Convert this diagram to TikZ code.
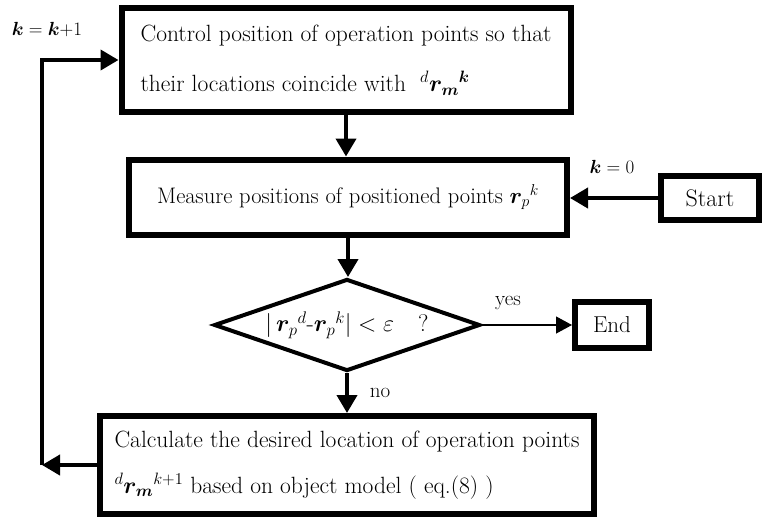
\documentclass[tikz,border=0pt]{standalone}
\usepackage{fix-cm}
\usepackage{fontspec}
\usepackage{bm}
\usetikzlibrary{arrows.meta,shapes.geometric}

\begin{document}
\begin{tikzpicture}[x=1pt, y=-1pt,
  box/.style={draw, line width=6pt, inner sep=0pt, fill=white},
  arr/.style={line width=4pt, -{Triangle[length=18pt, width=20pt]}},
  thinarr/.style={line width=1.2pt, -{Triangle[length=16pt, width=17pt]}},
  lbl/.style={font=\fontsize{19}{22}\selectfont},
  ans/.style={font=\fontsize{21}{24}\selectfont}]
  \useasboundingbox (0,0) rectangle (762,520);
  % boxes of the loop
  \node[box, minimum width=449pt, minimum height=104pt, align=left,
    font=\fontsize{23.5}{50}\selectfont] (ctrl) at (346,60)
    {Control position of operation points so that\\
     their locations coincide with \ ${}^{d}\bm{r}_{\bm m}{}^{\bm k}$};
  \node[box, minimum width=438pt, minimum height=75pt,
    font=\fontsize{22.5}{26}\selectfont] (meas) at (348,197)
    {Measure positions of positioned points $\bm{r}_{p}{}^{k}$};
  \node[draw, shape=diamond, aspect=2.9, line width=4pt, inner sep=0pt,
    minimum width=266pt, minimum height=92pt,
    font=\fontsize{24}{26}\selectfont] (dec) at (347,325)
    {$|\,\bm{r}_{p}{}^{d}\mbox{-}\bm{r}_{p}{}^{k}| < \varepsilon$\quad ?};
  \node[box, minimum width=494pt, minimum height=98pt, align=left,
    font=\fontsize{23.5}{46}\selectfont] (calc) at (347,465)
    {Calculate the desired location of operation points\\
     ${}^{d}\bm{r}_{\bm m}{}^{k+1}$ based on object model ( eq.(8) )};
  \node[box, minimum width=98pt, minimum height=44pt,
    font=\fontsize{24}{26}\selectfont] (start) at (710,198) {Start};
  \node[box, minimum width=74pt, minimum height=46pt,
    font=\fontsize{23}{26}\selectfont] (end) at (612,325) {End};
  % labels
  \node[lbl] (kinc) at (47,30) {$\bm k = \bm k{+}1$};
  \node[lbl] (kzero) at (612,167) {$\bm k = 0$};
  \node[ans] (yes) at (508,303) {yes};
  \node[ans] (no) at (380,393) {no};
  \coordinate (back) at (42,465);
  % connectors
  \draw[arr] (ctrl.south) -- (ctrl.south |- meas.north);
  \draw[arr] (start.west) -- (start.west -| meas.east);
  \draw[arr] (meas.south) -- (meas.south |- dec.north);
  \draw[thinarr] (dec.east) -- (end.west);
  \draw[arr] (dec.south) -- (dec.south |- calc.north);
  \draw[arr] (calc.west) -- (back);
  \draw[arr] (back) |- (ctrl.west);
\end{tikzpicture}
\end{document}
